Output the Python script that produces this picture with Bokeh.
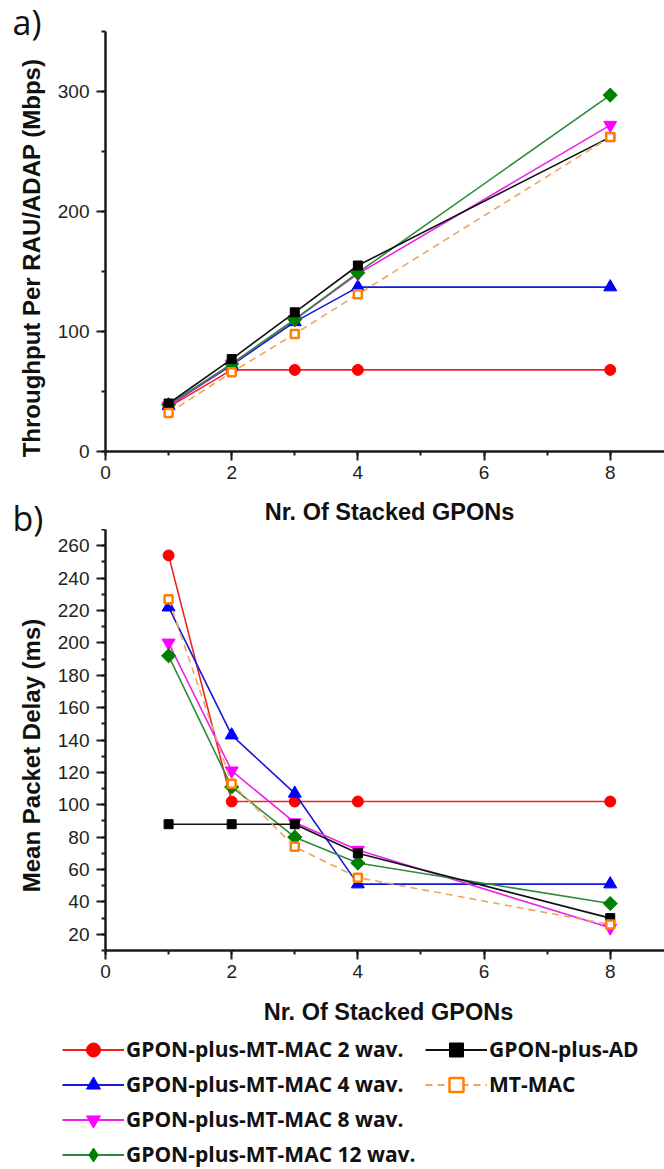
import numpy as np
from bokeh.plotting import figure
from bokeh.models import Range1d, SingleIntervalTicker, Label, Legend, LegendItem
from bokeh.layouts import column, row
from bokeh.embed import file_html
from bokeh.resources import INLINE

# ---------------- data ----------------
gpons = [1, 2, 3, 4, 8]
x_title = "Nr. Of Stacked GPONs"
y_title_top = "Throughput Per RAU/ADAP (Mbps)"
y_title_bottom = "Mean Packet Delay (ms)"
series_names = ["GPON-plus-MT-MAC 2 wav.", "GPON-plus-MT-MAC 4 wav.",
                "GPON-plus-MT-MAC 8 wav.", "GPON-plus-MT-MAC 12 wav.",
                "GPON-plus-AD", "MT-MAC"]

thr_2wav = [37, 68, 68, 68, 68]
thr_4wav = [38, 72, 108, 137, 137]
thr_8wav = [38, 73, 110, 148, 272]
thr_12wav = [39, 73, 110, 149, 297]
thr_ad = [40, 77, 116, 155, 262]
thr_mtmac = [32, 66, 98, 131, 262]

delay_2wav = [254, 102, 102, 102, 102]
delay_4wav = [222, 143, 107, 51, 51]
delay_8wav = [200, 121, 89, 72, 24]
delay_12wav = [192, 111, 80, 64, 39]
delay_ad = [88, 88, 88, 70, 30]
delay_mtmac = [227, 113, 74, 55, 26]

# ---------------- styles ----------------
styles = [
    dict(line="#EE2020", dash="solid", marker="circle", size=11, fill="#FF0000", mline="#FF0000", mlw=1, angle=0),
    dict(line="#1818D8", dash="solid", marker="triangle", size=13, fill="#0000FF", mline="#0000FF", mlw=1, angle=0),
    dict(line="#EE22EE", dash="solid", marker="inverted_triangle", size=13, fill="#FF00FF", mline="#FF00FF", mlw=1, angle=0),
    dict(line="#2E8B3A", dash="solid", marker="square", size=10, fill="#008000", mline="#008000", mlw=1, angle=np.pi / 4),
    dict(line="#111111", dash="solid", marker="square", size=9, fill="#000000", mline="#000000", mlw=1, angle=0),
    dict(line="#EFA55C", dash="7 5", marker="square", size=8, fill="#FFFFFF", mline="#FF8000", mlw=2.5, angle=0),
]
legend_markers = ["circle", "triangle", "inverted_triangle", "diamond", "square", "square"]

AXIS_FONT = "Liberation Sans"
RIGHT_W = 610
LEFT_W = 54
TOP_H, BAND_H, BOT_H, LEG_H = 497, 32, 463, 177
PLOTS_H = TOP_H + BAND_H + BOT_H


def blank_fig(width, height, left=0):
    p = figure(width=width, height=height, x_range=Range1d(-20, -19), y_range=Range1d(-20, -19),
               x_axis_type=None, y_axis_type=None, output_backend="svg",
               toolbar_location=None, min_border=0, min_border_left=left)
    p.outline_line_color = None
    p.background_fill_color = "white"
    p.border_fill_color = "white"
    return p


def make_fig(height, y0, y1, btop, bbottom, yinterval):
    p = figure(width=RIGHT_W, height=height, x_range=Range1d(0, 8.86), y_range=Range1d(y0, y1),
               output_backend="svg", toolbar_location=None,
               min_border_left=50, min_border_right=0,
               min_border_top=btop, min_border_bottom=bbottom)
    p.xgrid.visible = False
    p.ygrid.visible = False
    p.outline_line_color = None
    p.background_fill_color = "white"
    p.border_fill_color = "white"
    p.xaxis.ticker = SingleIntervalTicker(interval=2, num_minor_ticks=2)
    p.yaxis.ticker = SingleIntervalTicker(interval=yinterval, num_minor_ticks=2)
    for ax in (p.xaxis[0], p.yaxis[0]):
        ax.axis_line_width = 2.5
        ax.axis_line_color = "#1a1a1a"
        ax.major_tick_line_width = 2
        ax.minor_tick_line_width = 2
        ax.major_tick_line_color = "#1a1a1a"
        ax.minor_tick_line_color = "#1a1a1a"
        ax.major_tick_out = 9
        ax.major_tick_in = 0
        ax.minor_tick_out = 4
        ax.minor_tick_in = 0
        ax.major_label_text_font = AXIS_FONT
        ax.major_label_text_font_size = "19px"
        ax.major_label_text_color = "#222222"
    p.xaxis.major_label_standoff = 5
    p.yaxis.major_label_standoff = 7
    return p


def draw(p, ys, markers=None):
    items = []
    for i, (name, y, st) in enumerate(zip(series_names, ys, styles)):
        mk = markers[i] if markers else st["marker"]
        ang = 0 if markers else st["angle"]
        lw = 2 if markers else 1.6
        lr = p.line(gpons, y, line_color=st["line"], line_width=lw, line_dash=st["dash"])
        sr = p.scatter(gpons, y, marker=mk, size=st["size"], fill_color=st["fill"],
                       line_color=st["mline"], line_width=st["mlw"], angle=ang)
        items.append(LegendItem(label=name, renderers=[lr, sr]))
    return items


def text_label(p, x, y, text, size, font=AXIS_FONT, style="bold", angle=0.0,
               align="center", baseline="alphabetic"):
    p.add_layout(Label(x=x, y=y, x_units="screen", y_units="screen", text=text,
                       text_font=font, text_font_style=style, text_font_size=size,
                       text_color="#111111", angle=angle, text_align=align,
                       text_baseline=baseline))


# ---------------- left strip: panel letters and y titles ----------------
pl = blank_fig(LEFT_W, PLOTS_H)
text_label(pl, 12, PLOTS_H - 21, "a)", "34px", font="Open Sans", style="normal", align="left")
text_label(pl, 31, PLOTS_H - 257.5, y_title_top, "24px", angle=np.pi / 2, baseline="middle")
text_label(pl, 12, PLOTS_H - 517, "b)", "34px", font="Open Sans", style="normal", align="left")
text_label(pl, 31, PLOTS_H - 755, y_title_bottom, "24px", angle=np.pi / 2, baseline="middle")

# ---------------- top: throughput ----------------
p1 = make_fig(TOP_H, 0, 350, 31, 46, 100)
draw(p1, [thr_2wav, thr_4wav, thr_8wav, thr_12wav, thr_ad, thr_mtmac])

# band with the x title of the top chart (frame starts at the plots' frame left)
pb = blank_fig(RIGHT_W, BAND_H, left=50)
text_label(pb, 284, 17.5, x_title, "23.5px")

# ---------------- bottom: delay ----------------
p2 = make_fig(BOT_H, 10, 270, 0, 42, 20)
draw(p2, [delay_2wav, delay_4wav, delay_8wav, delay_12wav, delay_ad, delay_mtmac])

# ---------------- bottom x title and legend ----------------
pleg = blank_fig(LEFT_W + RIGHT_W, LEG_H)
text_label(pleg, 388, LEG_H - 19.5, x_title, "23.5px")
leg_items = draw(pleg, [delay_2wav, delay_4wav, delay_8wav, delay_12wav, delay_ad, delay_mtmac],
                 markers=legend_markers)

legend = Legend(items=leg_items, location=(62, LEG_H - 39.5 - 140), orientation="vertical", nrows=4,
                glyph_width=62, glyph_height=35, label_height=35, label_standoff=2,
                spacing=0, padding=0, margin=0, label_width=299,
                label_text_font="Open Sans", label_text_font_style="bold",
                label_text_font_size="21px", label_text_color="#111111",
                border_line_color=None, background_fill_alpha=0)
pleg.add_layout(legend, "center")

layout = column(row(pl, column(p1, pb, p2, spacing=0), spacing=0), pleg, spacing=0)
open("out.html", "w").write(file_html(layout, INLINE))
